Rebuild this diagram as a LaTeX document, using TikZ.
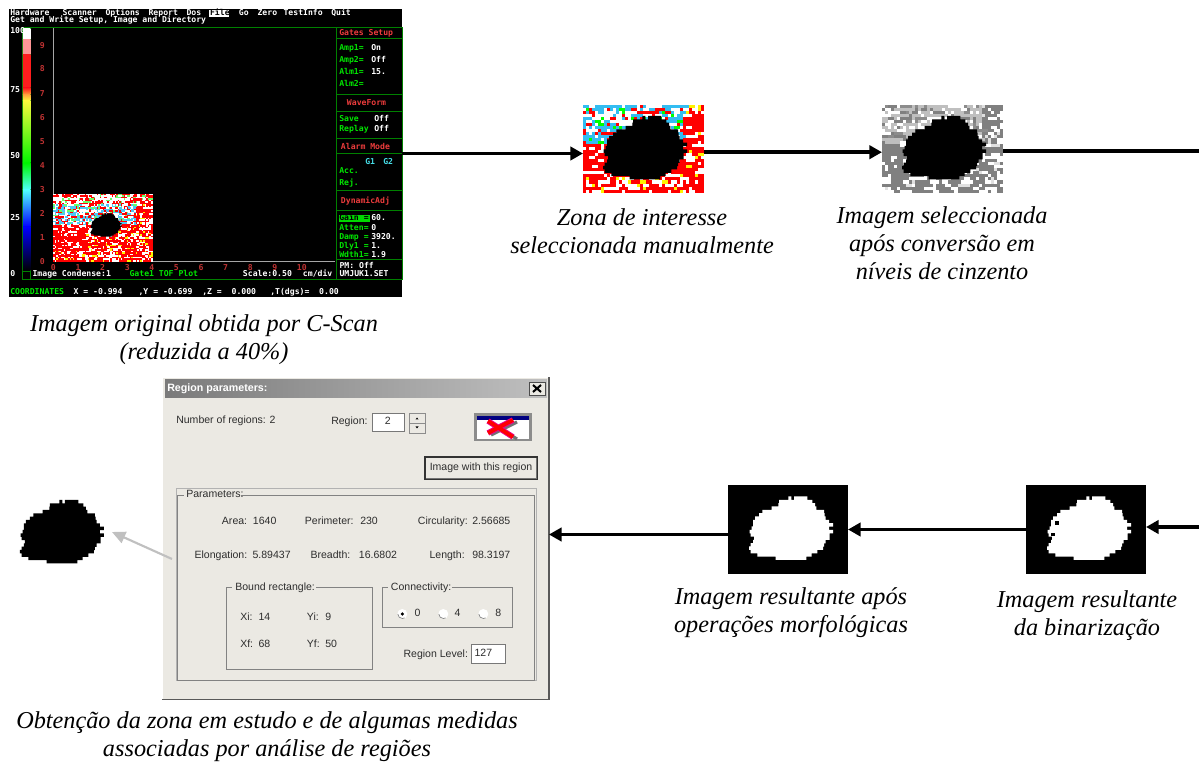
\documentclass[tikz,border=0pt]{standalone}
\usepackage{fontspec}
\usetikzlibrary{arrows.meta,calc}
\setmainfont{Liberation Serif}
\newfontfamily\dosfont{DejaVu Sans Mono}
\newfontfamily\uifont{Liberation Sans}
\definecolor{scrgreen}{RGB}{0,128,0}
\definecolor{txtgreen}{RGB}{0,230,0}
\definecolor{txtred}{RGB}{235,60,60}
\definecolor{tickred}{RGB}{190,50,50}
\definecolor{txtcyan}{RGB}{70,220,230}
\definecolor{face}{RGB}{235,233,227}
\definecolor{uitext}{RGB}{45,45,45}
\definecolor{cbA}{RGB}{255,255,255}
\definecolor{cbB}{RGB}{255,150,150}
\definecolor{cbC}{RGB}{255,30,30}
\definecolor{cbD}{RGB}{255,170,60}
\definecolor{cbE}{RGB}{250,250,60}
\definecolor{cbF}{RGB}{0,245,0}
\definecolor{cbG}{RGB}{80,255,255}
\definecolor{cbH}{RGB}{0,0,255}
\definecolor{cbI}{RGB}{0,0,0}
\newcounter{lbl}
\newcommand\stx[4]{\stepcounter{lbl}\node[dostext,text=#3] (lbl\arabic{lbl}) at (#1,#2) {#4};}
\newcommand\uit[3]{\stepcounter{lbl}\node[uitxt] (lbl\arabic{lbl}) at (#1,#2) {#3};}
% pixelated lesion: rows of the mask, in 1/3 px units
\newcommand\blobmask[1]{\begin{scope}[scale=.33333]
\fill[#1] \foreach \ya/\xa/\xb in {70/150/250,80/148/258,90/128/262,100/100/285,110/90/287,120/78/290,130/72/300,140/72/312,150/68/300,160/62/312,170/65/302,180/75/302,190/72/290,200/65/285,210/60/282,220/65/265,230/85/248,240/140/232}{(\xa,\ya) rectangle (\xb,\ya+10.4)} (178,60) rectangle (187,71) (195,60) rectangle (235,71);
\end{scope}}
% x0 y0 cols rows cell topv
\newcommand\noisefill[6]{%
\gdef\prevc{noiseW}%
\foreach \rr in {1,...,#4}{\foreach \cc in {1,...,#3}{%
 \pgfmathrandominteger{\kk}{0}{9}\pgfmathrandominteger{\jj}{0}{9}%
 \edef\uu{\the\numexpr100*\cc/#3\relax}\edef\vv{\the\numexpr100*\rr/#4\relax}%
 \ifnum\jj<3 \edef\nc{\prevc}\else
 \edef\lowc{\ifnum\uu<35 \ifnum\vv<85 \ifnum\kk<8 noiseR\else noiseW\fi\else\ifcase\kk noiseR\or noiseR\or noiseR\or noiseR\or noiseR\or noiseR\or noiseW\or noiseW\or noiseW\or noiseY\fi\fi\else\ifcase\kk noiseR\or noiseR\or noiseR\or noiseR\or noiseR\or noiseR\or noiseW\or noiseW\or noiseW\or noiseY\fi\fi}%
 \edef\midc{\ifcase\kk noiseW\or noiseW\or noiseW\or noiseC\or noiseC\or noiseC\or noiseC\or noiseG\or noiseR\or noiseR\fi}%
 \edef\topc{\ifcase\kk noiseW\or noiseW\or noiseW\or noiseW\or noiseW\or noiseR\or noiseR\or noiseR\or noiseR\or noiseG\fi}%
 \edef\nc{\ifnum\vv<#6 \topc\else\ifnum\vv<48 \ifnum\uu<84 \midc\else\lowc\fi\else\lowc\fi\fi}%
 \fi
 \global\let\prevc\nc
 \fill[\nc] ({#1+(\cc-1)*#5},{#2+(\rr-1)*#5}) rectangle +({#5+.2},{#5+.2});
}}}
\tikzset{
  imgbox/.style={inner sep=0pt,outer sep=0pt,draw=none},
  dostext/.style={anchor=west,inner sep=0pt,text height=4.6pt,text depth=1.2pt,font=\dosfont\bfseries\fontsize{6.1}{7}\selectfont},
  uitxt/.style={anchor=west,inner sep=0pt,text height=5.9pt,text depth=1.7pt,text=uitext,font=\uifont\fontsize{7.9}{9}\selectfont},
  caption/.style={inner sep=0pt,align=center,font=\itshape\fontsize{18.2}{21}\selectfont},
  flow/.style={line width=2.7pt,-{Triangle[length=9.5pt,width=10pt]}},
  plainflow/.style={line width=2.7pt},
  greyflow/.style={line width=1.6pt,draw={rgb,255:red,192;green,192;blue,192},-{Triangle[length=10pt,width=9pt]}},
  grpbox/.style={draw={rgb,255:red,130;green,130;blue,130},line width=.6pt},
  scrline/.style={draw=scrgreen,line width=.75pt},
  sunken/.style={fill=white,draw={rgb,255:red,120;green,120;blue,120},line width=.6pt},
}
\begin{document}
\begin{tikzpicture}[x=0.75pt,y=-0.75pt]
\useasboundingbox (0,0) rectangle (1199,762);
\fill[white] (0,0) rectangle (1199,762);
\pgfmathsetseed{42}
% ---------- C-scan screen
\node[imgbox,fill=black,minimum width=294.75pt,minimum height=216pt] (scan) at (205.5,153.5) {};
\draw[scrline] (22.3,27.7) rectangle (402,279.3);
\draw[scrline] (30.7,27.7) -- (30.7,279.3);
\draw[scrline] (22.3,271.7) -- (30.7,271.7);
\draw[scrline] (336,27.7) -- (336,279.3);
\foreach \yy in {38.3,94.3,111.3,138.3,153.3,191,210.3,260}{\draw[scrline] (336,\yy) -- (402,\yy);}
\shade[top color=cbA,bottom color=cbA] (22.8,28.5) rectangle (30.3,40);
\shade[top color=cbB,bottom color=cbB] (22.8,40) rectangle (30.3,55);
\shade[top color=cbC,bottom color=cbC] (22.8,55) rectangle (30.3,88);
\shade[top color=cbC,bottom color=cbD] (22.8,88) rectangle (30.3,95);
\shade[top color=cbD,bottom color=cbE] (22.8,95) rectangle (30.3,101);
\shade[top color=cbE,bottom color=cbF] (22.8,101) rectangle (30.3,163);
\shade[top color=cbF,bottom color=cbG] (22.8,163) rectangle (30.3,190);
\shade[top color=cbG,bottom color=cbH] (22.8,190) rectangle (30.3,227);
\shade[top color=cbH,bottom color=cbI] (22.8,227) rectangle (30.3,271);
\draw[gray!70,line width=.6pt] (53.3,28) -- (53.3,261) -- (335,261);
% inset
\begin{scope}
\colorlet{noiseW}{white}\colorlet{noiseR}{red}\colorlet{noiseC}{cyan!70!white}\colorlet{noiseG}{green!60!white}\colorlet{noiseY}{yellow}
\fill[white] (53.3,194) rectangle (152,261);
\noisefill{53.3}{194}{66}{45}{1.5}{18}
\end{scope}
\begin{scope}[shift={(106,225)},scale=.37,shift={(-62,-51.7)}]
\blobmask{black}
\end{scope}
\stx{10}{13.3}{white}{Hardware}
\stx{62.3}{13.3}{white}{Scanner}
\stx{105.3}{13.3}{white}{Options}
\stx{148.3}{13.3}{white}{Report}
\stx{186.3}{13.3}{white}{Dos}
\fill[white] (209.3,10) rectangle (229.3,17);
\stx{209.8}{13.3}{black}{File}
\stx{238.7}{13.3}{white}{Go}
\stx{257.3}{13.3}{white}{Zero}
\stx{283.3}{13.3}{white}{TestInfo}
\stx{331}{13.3}{white}{Quit}
\stx{10}{20.3}{white}{Get and Write Setup, Image and Directory}
\stx{10}{31}{white}{100}
\stx{10}{90}{white}{75}
\stx{10}{156}{white}{50}
\stx{10}{218}{white}{25}
\stx{10}{274}{white}{0}
\foreach \yy/\tt in {46/9,69/8,94/7,118/6,142/5,166/4,190/3,214/2,238/1,262/0}{\stx{39.5}{\yy}{tickred}{\tt}}
\foreach \xx/\tt in {50.7/0,75.3/1,99.9/2,124.5/3,149.1/4,173.7/5,198.3/6,222.9/7,247.5/8,272.1/9,296.7/10}{\stx{\xx}{268}{tickred}{\tt}}
\stx{32.3}{274.7}{white}{Image Condense:1}
\stx{129.3}{274.7}{txtgreen}{Gate1 TOF Plot}
\stx{242.7}{274.7}{white}{Scale:0.50}
\stx{302.7}{274.7}{white}{cm/div}
\stx{339.3}{266}{white}{PM: Off}
\stx{339.3}{274.7}{white}{UMJUK1.SET}
\stx{10}{292}{txtgreen}{COORDINATES}
\stx{73.3}{292}{white}{X = -0.994}
\stx{138.3}{292}{white}{,Y = -0.699}
\stx{202}{292}{white}{,Z =\ \ 0.000}
\stx{270}{292}{white}{,T(dgs)=\ \ 0.00}
\stx{339}{33}{txtred}{Gates Setup}
\stx{339}{48}{txtgreen}{Amp1=}\stx{371}{48}{white}{On}
\stx{339}{60}{txtgreen}{Amp2=}\stx{371}{60}{white}{Off}
\stx{339}{72}{txtgreen}{Alm1=}\stx{371}{72}{white}{15.}
\stx{339}{84}{txtgreen}{Alm2=}
\stx{346.7}{103}{txtred}{WaveForm}
\stx{339}{119}{txtgreen}{Save}\stx{374}{119}{white}{Off}
\stx{339}{129}{txtgreen}{Replay}\stx{374}{129}{white}{Off}
\stx{340.7}{147}{txtred}{Alarm Mode}
\stx{365}{162}{txtcyan}{G1}\stx{383}{162}{txtcyan}{G2}
\stx{339}{171}{txtgreen}{Acc.}
\stx{339}{183}{txtgreen}{Rej.}
\stx{340.7}{201}{txtred}{DynamicAdj}
\fill[green!85!black] (339,215.5) rectangle (370,222);
\stx{339}{218.7}{black}{Gain =}\stx{371}{218.7}{white}{60.}
\stx{339}{228}{txtgreen}{Atten=}\stx{371}{228}{white}{0}
\stx{339}{237}{txtgreen}{Damp =}\stx{371}{237}{white}{3920.}
\stx{339}{246.7}{txtgreen}{Dly1 =}\stx{371}{246.7}{white}{1.}
\stx{339}{255}{txtgreen}{Wdth1=}\stx{371}{255}{white}{1.9}
% ---------- colour crop
\node[imgbox,minimum width=90.75pt,minimum height=66pt] (crop) at (643.5,149) {};
\begin{scope}
\colorlet{noiseW}{white}\colorlet{noiseR}{red}\colorlet{noiseC}{cyan!80!white}\colorlet{noiseG}{green}\colorlet{noiseY}{yellow}
\fill[white] (583,105) rectangle (704,193);
\noisefill{583}{105}{40}{29}{3.02}{0}
\end{scope}
\begin{scope}[shift={(583,96)}]
\blobmask{black}
\end{scope}
% ---------- grey crop
\node[imgbox,minimum width=90.75pt,minimum height=66pt] (grey) at (942.5,149) {};
\begin{scope}
\colorlet{noiseW}{white}\colorlet{noiseR}{black!50}\colorlet{noiseC}{black!25}\colorlet{noiseG}{black!45}\colorlet{noiseY}{black!12}
\fill[white] (882,105) rectangle (1003,193);
\noisefill{882}{105}{40}{29}{3.02}{0}
\end{scope}
\begin{scope}[shift={(882,96)}]
\blobmask{black}
\end{scope}
% ---------- binary images
\node[imgbox,fill=black,minimum width=90pt,minimum height=66.75pt] (morph) at (788,529.5) {};
\begin{scope}[shift={(729,476.5)}]
\blobmask{white}
\end{scope}
\node[imgbox,fill=black,minimum width=90pt,minimum height=66.75pt] (bin) at (1086,529.5) {};
\begin{scope}[shift={(1027,476.5)}]
\blobmask{white}
\end{scope}
\fill[black] (1055,521) rectangle +(3.5,3.5);
\fill[black] (1051,532.5) rectangle +(3.5,3.5);
% ---------- extracted region
\node[imgbox,minimum width=75pt,minimum height=48pt] (region) at (62,532) {};
\begin{scope}[shift={(0,480)}]
\blobmask{black}
\end{scope}
% ---------- dialog
\node[imgbox,fill=face,minimum width=290pt,minimum height=241.7pt] (dlg) at (355.6,538.2) {};
\draw[white,line width=.8pt] (162.5,699) -- (162.5,377.5) -- (549,377.5);
\draw[black!65,line width=1.2pt] (162.3,699.3) -- (549,699.3) -- (549,377);
\shade[left color=black!52,right color=black!25] (165,380) rectangle (547,398);
\stepcounter{lbl}\node[anchor=west,inner sep=0pt,text=white,font=\uifont\bfseries\fontsize{8}{9}\selectfont] (dlgtitle) at (167,389) {Region parameters:};
\fill[face] (529,382) rectangle (545,395);
\draw[black!70,line width=.5pt] (529,382) rectangle (545,395);
\draw[black,line width=1.5pt] (533,385) -- (541,392) (541,385) -- (533,392);
\uit{176}{420.7}{Number of regions: 2}
\uit{331}{421.7}{Region:}
\draw[sunken] (372,413) rectangle (404,431);
\stepcounter{lbl}\node[uitxt,anchor=center] (lbl\arabic{lbl}) at (387.7,421.5) {2};
\draw[black!45,fill=face,line width=.5pt] (409,413) rectangle (425,423);
\draw[black!45,fill=face,line width=.5pt] (409,423) rectangle (425,433);
\fill[black] (415.5,419.5) -- (417,417.5) -- (418.5,419.5) -- cycle;
\fill[black] (415.5,426.5) -- (417,428.5) -- (418.5,426.5) -- cycle;
% icon
\fill[black!45] (474,413.5) rectangle (532,441.5);
\fill[white] (477,416) rectangle (529,439);
\fill[blue!50!black] (477,416) rectangle (529,420);
\draw[black!55,line width=2.4pt] (491,435) -- (517,422) (491,423) -- (517,439);
\draw[magenta,line width=4.2pt] (488,433) -- (513,420) (488,421) -- (513,437);
\draw[red,line width=2.8pt] (488,433) -- (513,420) (488,421) -- (513,437);
% button
\fill[face] (425,457) rectangle (537,479);
\draw[black!80,line width=.8pt] (425,457) rectangle (537,479);
\draw[black!55,line width=.7pt] (426,478) -- (536,478) -- (536,458);
\stepcounter{lbl}\node[uitxt,anchor=center] (lbl\arabic{lbl}) at (481,468) {Image with this region};
% group
\draw[black!30,line width=.6pt] (176,488) rectangle (536,680);
\draw[grpbox] (177,495) rectangle (534,680);
\fill[face] (184,490) rectangle (241,500);
\uit{186}{495}{Parameters:}
\uit{221.7}{522}{Area:}\uit{252.7}{522}{1640}
\uit{304.7}{522}{Perimeter:}\uit{360}{522}{230}
\uit{417.7}{522}{Circularity:}\uit{472}{522}{2.56685}
\uit{194.3}{555.7}{Elongation:}\uit{252.3}{555.7}{5.89437}
\uit{310.3}{555.7}{Breadth:}\uit{358.7}{555.7}{16.6802}
\uit{429.3}{555.7}{Length:}\uit{472}{555.7}{98.3197}
\draw[grpbox] (226.3,587.7) rectangle (372.7,669.3);
\fill[face] (232,583) rectangle (316,593);
\uit{235}{588}{Bound rectangle:}
\uit{240}{617.3}{Xi:}\uit{258.3}{617.3}{14}
\uit{306.7}{617.3}{Yi:}\uit{325}{617.3}{9}
\uit{240}{645}{Xf:}\uit{258.3}{645}{68}
\uit{306.7}{645}{Yf:}\uit{325}{645}{50}
\draw[grpbox] (382,587.7) rectangle (512.7,627.7);
\fill[face] (388,583) rectangle (452,593);
\uit{390.7}{588}{Connectivity:}
\foreach \xx in {402.3,443.3,483.3}{\fill[white] (\xx,614) circle[radius=5];\draw[black!50,line width=.5pt] ([shift={(-4.5,0)}]\xx,614) arc[start angle=180,end angle=60,radius=4.5];}
\fill[black] (402.3,614) circle[radius=1.8];
\uit{414.3}{614}{0}\uit{454.3}{614}{4}\uit{495}{614}{8}
\uit{403.3}{654.3}{Region Level:}
\draw[sunken] (471.7,644.3) rectangle (505,663.3);
\uit{474.3}{653.5}{127}
% ---------- captions
\node[caption] (capscan) at (204,340) {Imagem original obtida por C-Scan\\(reduzida a 40\%)};
\node[caption] (capcrop) at (642,231) {Zona de interesse\\seleccionada manualmente};
\node[caption] (capgrey) at (942,243) {Imagem seleccionada\\após conversão em\\níveis de cinzento};
\node[caption] (capmorph) at (791,613) {Imagem resultante após\\operações morfológicas};
\node[caption] (capbin) at (1087,616) {Imagem resultante\\da binarização};
\node[caption] (capdlg) at (267,737) {Obtenção da zona em estudo e de algumas medidas\\associadas por análise de regiões};
% ---------- connectors
\coordinate (edgeT) at (1199,151);
\coordinate (edgeB) at (1199,527);
\coordinate (greytail) at (172,559);
\coordinate (dlgin) at (728,534.5);
\draw[flow] (scan.east) -- (scan.east -| crop.west);
\draw[flow] ([yshift=-2.4pt]crop.east) -- ([yshift=-2.4pt]grey.west);
\draw[plainflow] (grey.east |- edgeT) -- (edgeT);
\draw[flow] (edgeB) -- (edgeB -| bin.east);
\draw[flow] (bin.west) -- (morph.east);
\draw[flow] (dlgin -| morph.west) -- (dlgin -| dlg.east);
\draw[greyflow] (greytail) -- (region.east);
\end{tikzpicture}
\end{document}
